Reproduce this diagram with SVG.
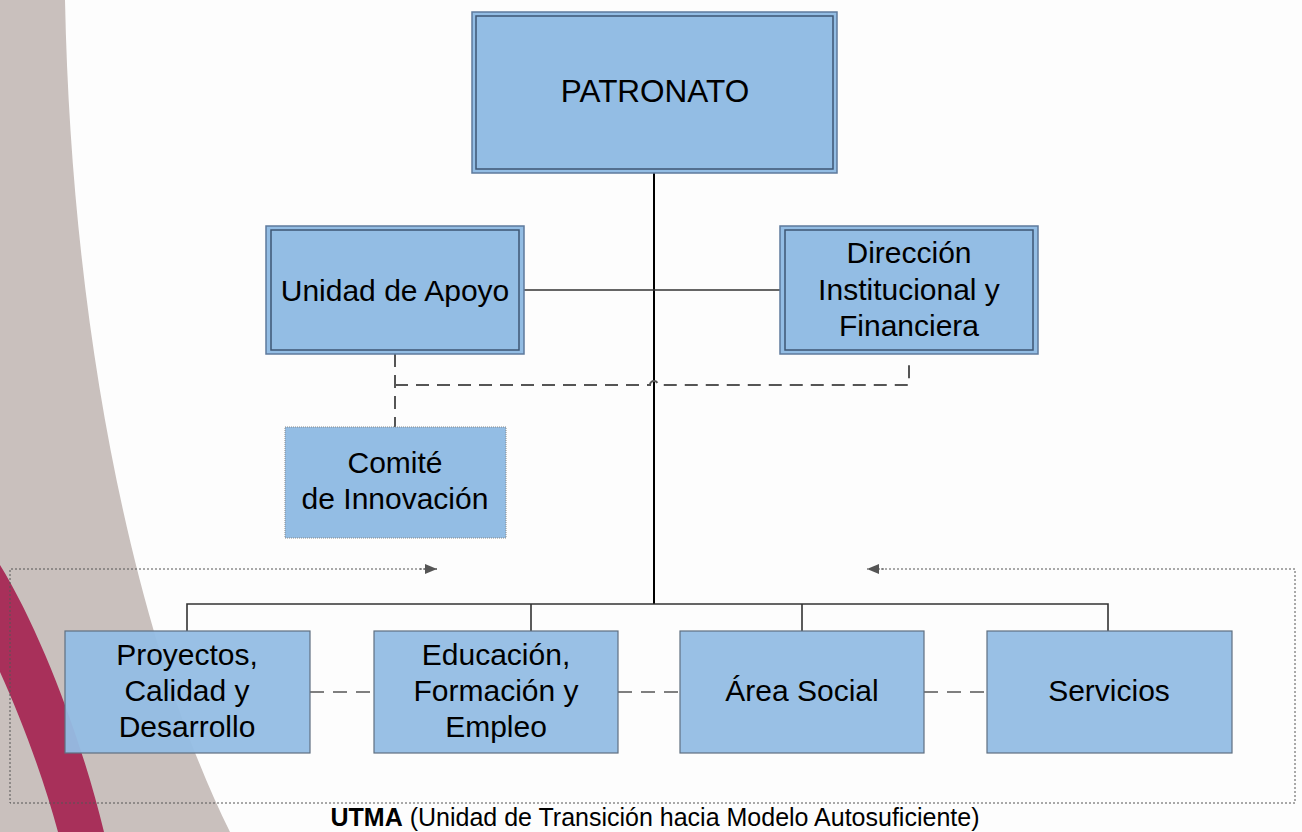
<svg xmlns="http://www.w3.org/2000/svg" width="1302" height="832" viewBox="0 0 1302 832">
<style>
.t{font-family:"Liberation Sans",Arial,sans-serif;font-size:30px;fill:#000;text-anchor:middle}
.box{fill:#93bde4;stroke:#5e7a9c;stroke-width:1.5}
.inner{fill:none;stroke:#3e5673;stroke-width:1.5}
.bbox{fill:#93bde4;fill-opacity:0.95;stroke:#5f6f80;stroke-width:1.2}
.solid{fill:none;stroke:#333;stroke-width:1.6}
.dash{fill:none;stroke:#555;stroke-width:2;stroke-dasharray:13 8}
.dash2{fill:none;stroke:#555;stroke-width:1.6;stroke-dasharray:14 9}
.dot{fill:none;stroke:#555;stroke-width:1;stroke-dasharray:2 2}
</style>
<defs>
<marker id="ah" viewBox="0 0 12 10" refX="12" refY="5" markerWidth="12" markerHeight="10" markerUnits="userSpaceOnUse" orient="auto">
<path d="M0,0 L12,5 L0,10 Z" fill="#555"/>
</marker>
</defs>
<rect width="1302" height="832" fill="#fdfdfd"/>
<g id="background">
<path d="M0,0 L65,0 C72,350 140,650 230,832 L0,832 Z" fill="#c9c0bd"/>
<path d="M0,565 C40,630 82,740 104,832 L58,832 C44,780 22,720 0,672 Z" fill="#a8305a"/>
</g>
<g id="connectors">
<path d="M654,173 V604" fill="none" stroke="#000" stroke-width="2"/>
<path class="solid" d="M524,290 H780"/>
<path class="solid" d="M187,631 V604 H1108 V631 M531,604 V631 M802,604 V631"/>
<path class="dash" d="M395,354 V427"/>
<path class="dash" d="M395,385 H650 a4,4 0 0 1 8,0 H909 V359"/>
<path class="dash2" d="M310,692 H374 M618,692 H680 M924,692 H987"/>
<path class="dot" d="M437,569 H10 V803 H1295 V569 H867"/>
<path class="dot" d="M420,569 H437" marker-end="url(#ah)"/>
<path class="dot" d="M884,569 H867" marker-end="url(#ah)"/>
</g>
<g id="patronato">
<rect class="box" x="472" y="12" width="365" height="161"/>
<rect class="inner" x="476" y="16" width="357" height="153"/>
<text class="t" x="655" y="102" style="font-size:31.5px">PATRONATO</text>
</g>
<g id="unidad-apoyo">
<rect class="box" x="266" y="226" width="258" height="128"/>
<rect class="inner" x="271" y="230" width="248" height="120"/>
<text class="t" x="395" y="301">Unidad de Apoyo</text>
</g>
<g id="direccion">
<rect class="box" x="780" y="226" width="258" height="128"/>
<rect class="inner" x="785" y="230" width="248" height="120"/>
<text class="t" x="909" y="263">Dirección</text>
<text class="t" x="909" y="300">Institucional y</text>
<text class="t" x="909" y="336">Financiera</text>
</g>
<g id="comite">
<rect x="285" y="427" width="221" height="111" fill="#93bde4" stroke="#888" stroke-width="1" stroke-dasharray="1 1"/>
<text class="t" x="395" y="473">Comité</text>
<text class="t" x="395" y="509">de Innovación</text>
</g>
<g id="proyectos">
<rect class="bbox" x="65" y="631" width="245" height="122"/>
<text class="t" x="187" y="665">Proyectos,</text>
<text class="t" x="187" y="701">Calidad y</text>
<text class="t" x="187" y="737">Desarrollo</text>
</g>
<g id="educacion">
<rect class="bbox" x="374" y="631" width="244" height="122"/>
<text class="t" x="496" y="665">Educación,</text>
<text class="t" x="496" y="701">Formación y</text>
<text class="t" x="496" y="737">Empleo</text>
</g>
<g id="area-social">
<rect class="bbox" x="680" y="631" width="244" height="122"/>
<text class="t" x="802" y="701">Área Social</text>
</g>
<g id="servicios">
<rect class="bbox" x="987" y="631" width="245" height="122"/>
<text class="t" x="1109" y="701">Servicios</text>
</g>
<g id="caption">
<text x="655" y="826" style="font-family:'Liberation Sans',Arial,sans-serif;font-size:25px;text-anchor:middle"><tspan font-weight="bold">UTMA</tspan> (Unidad de Transición hacia Modelo Autosuficiente)</text>
</g>
</svg>
